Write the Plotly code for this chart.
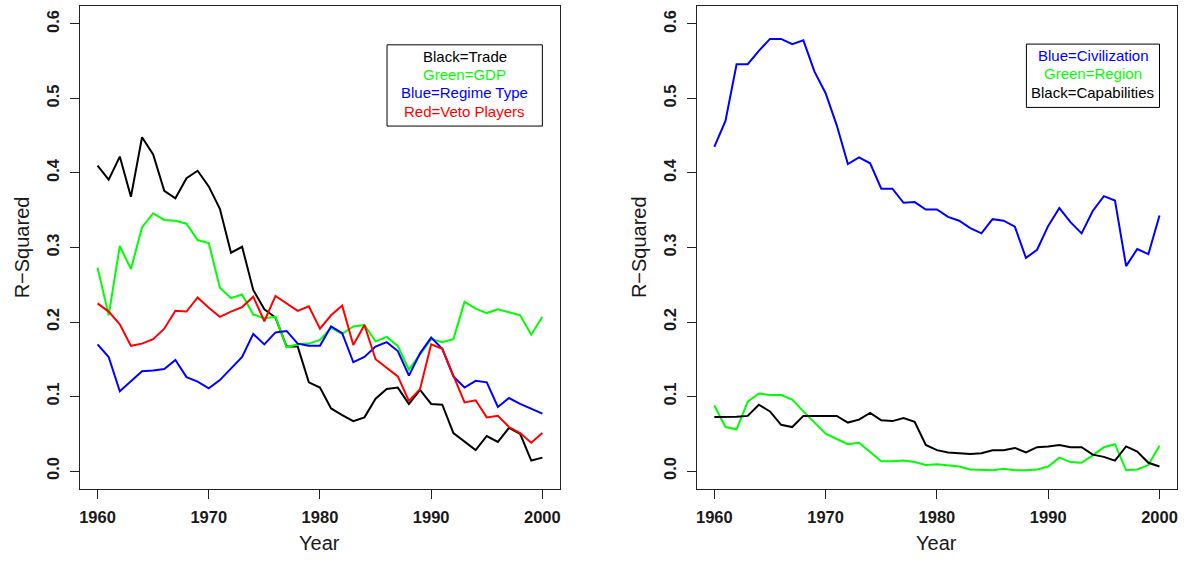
import plotly.graph_objects as go
from plotly.subplots import make_subplots

years = list(range(1960, 2001))

# Left panel: domestic/economic predictors
trade = [0.410, 0.391, 0.422, 0.368, 0.448, 0.425, 0.376, 0.366, 0.393, 0.403,
         0.382, 0.352, 0.293, 0.301, 0.243, 0.217, 0.206, 0.167, 0.167, 0.119,
         0.112, 0.084, 0.075, 0.067, 0.072, 0.097, 0.110, 0.112, 0.090, 0.109,
         0.090, 0.089, 0.051, 0.039, 0.028, 0.047, 0.039, 0.058, 0.050, 0.014,
         0.018]
gdp = [0.273, 0.209, 0.302, 0.271, 0.327, 0.346, 0.337, 0.336, 0.332, 0.310,
       0.306, 0.246, 0.232, 0.237, 0.210, 0.205, 0.207, 0.166, 0.170, 0.171,
       0.176, 0.192, 0.184, 0.194, 0.196, 0.174, 0.180, 0.168, 0.136, 0.157,
       0.177, 0.173, 0.177, 0.227, 0.218, 0.212, 0.217, 0.213, 0.209, 0.183,
       0.207]
regime = [0.170, 0.153, 0.107, 0.121, 0.134, 0.135, 0.137, 0.149, 0.126, 0.120,
          0.111, 0.122, 0.138, 0.153, 0.184, 0.170, 0.186, 0.188, 0.171, 0.168,
          0.168, 0.194, 0.185, 0.146, 0.153, 0.167, 0.173, 0.161, 0.128, 0.158,
          0.179, 0.164, 0.127, 0.112, 0.121, 0.119, 0.086, 0.098, 0.090, 0.083,
          0.077]
veto = [0.225, 0.214, 0.197, 0.168, 0.171, 0.177, 0.191, 0.215, 0.214, 0.233,
        0.219, 0.207, 0.214, 0.220, 0.234, 0.201, 0.235, 0.225, 0.215, 0.221,
        0.191, 0.209, 0.222, 0.169, 0.196, 0.150, 0.139, 0.127, 0.094, 0.110,
        0.170, 0.164, 0.128, 0.092, 0.095, 0.072, 0.074, 0.059, 0.051, 0.038,
        0.051]

# Right panel: civilizational / regional / power predictors
civilization = [0.435, 0.470, 0.546, 0.546, 0.564, 0.580, 0.580, 0.573, 0.578, 0.536,
                0.507, 0.464, 0.412, 0.421, 0.413, 0.379, 0.379, 0.360, 0.361, 0.351,
                0.351, 0.341, 0.336, 0.326, 0.319, 0.338, 0.336, 0.328, 0.286, 0.297,
                0.329, 0.353, 0.334, 0.319, 0.349, 0.369, 0.363, 0.275, 0.298, 0.291,
                0.343]
region = [0.088, 0.059, 0.056, 0.093, 0.104, 0.102, 0.102, 0.096, 0.080, 0.065,
          0.050, 0.043, 0.036, 0.038, 0.026, 0.013, 0.013, 0.014, 0.012, 0.008,
          0.009, 0.008, 0.006, 0.002, 0.001, 0.001, 0.003, 0.001, 0.001, 0.002,
          0.006, 0.018, 0.012, 0.011, 0.021, 0.032, 0.036, 0.001, 0.002, 0.008,
          0.034]
capabilities = [0.0725, 0.0725, 0.073, 0.074, 0.089, 0.080, 0.062, 0.059, 0.074, 0.074,
                0.074, 0.074, 0.065, 0.069, 0.078, 0.068, 0.067, 0.071, 0.066, 0.035,
                0.028, 0.025, 0.024, 0.023, 0.024, 0.028, 0.028, 0.031, 0.025, 0.032,
                0.033, 0.035, 0.032, 0.032, 0.022, 0.019, 0.014, 0.033, 0.026, 0.011,
                0.006]

x_ticks = [1960, 1970, 1980, 1990, 2000]
y_ticks = [0.0, 0.1, 0.2, 0.3, 0.4, 0.5, 0.6]

left_series = [(trade, "black"), (gdp, "#00ff00"), (regime, "#0000ff"), (veto, "#ff0000")]
right_series = [(civilization, "#0000ff"), (region, "#00ff00"), (capabilities, "black")]

left_key = [("Black=Trade", "black"), ("Green=GDP", "#00ff00"),
            ("Blue=Regime Type", "#0000ff"), ("Red=Veto Players", "#ff0000")]
right_key = [("Blue=Civilization", "#0000ff"), ("Green=Region", "#00ff00"),
             ("Black=Capabilities", "black")]

W, H = 1187, 563
FONT = "Liberation Sans, Arial, Helvetica, sans-serif"

fig = make_subplots(rows=1, cols=2)

for vals, col in left_series:
    fig.add_trace(go.Scatter(x=years, y=vals, mode="lines",
                             line=dict(color=col, width=2), showlegend=False),
                  row=1, col=1)
for vals, col in right_series:
    fig.add_trace(go.Scatter(x=years, y=vals, mode="lines",
                             line=dict(color=col, width=2), showlegend=False),
                  row=1, col=2)

# plot regions (pixel boxes converted to paper fractions)
left_px = (78.9, 560.1)
right_px = (696.7, 1178.3)
top_px, bottom_px = 6.1, 488.9
ydom = [(H - bottom_px) / H, (H - top_px) / H]

axis_common = dict(
    showgrid=False, zeroline=False, showline=True, mirror=True,
    linecolor="#222222", linewidth=1, ticks="outside", ticklen=9,
    tickwidth=1, tickcolor="#222222",
    tickfont=dict(family=FONT, size=16.5, color="#1a1a1a", weight="bold"),
)

for xa, ya, px in [("xaxis", "yaxis", left_px), ("xaxis2", "yaxis2", right_px)]:
    fig.layout[xa].update(domain=[px[0] / W, px[1] / W], range=[1958.4, 2001.6],
                          tickvals=x_ticks, ticklabelstandoff=4, **axis_common)
    fig.layout[ya].update(domain=ydom, range=[-0.024, 0.624], tickvals=y_ticks,
                          tickformat=".1f", tickangle=-90, ticklabelstandoff=4,
                          **axis_common)

annotations = []
shapes = []
for px in (left_px, right_px):
    cx = (px[0] + px[1]) / 2 / W
    annotations.append(dict(text="Year", x=cx, y=(H - 543) / H, xref="paper", yref="paper",
                            showarrow=False, xanchor="center", yanchor="middle",
                            font=dict(family=FONT, size=20, color="#1a1a1a")))
    annotations.append(dict(text="R\u2212Squared", x=(px[0] - 58) / W,
                            y=(H - (top_px + bottom_px) / 2) / H,
                            xref="paper", yref="paper", textangle=-90,
                            showarrow=False, xanchor="center", yanchor="middle",
                            font=dict(family=FONT, size=20, color="#1a1a1a")))

# colour key boxes drawn in data coordinates
key_specs = [("x", "y", left_key, 1986.03, 2000.0, 0.463, 0.572),
             ("x2", "y2", right_key, 1988.04, 2000.0, 0.488, 0.573)]
line_step = 18.3 / 745.0
for xref, yref, key, x0, x1, y0, y1 in key_specs:
    shapes.append(dict(type="rect", xref=xref, yref=yref, x0=x0, x1=x1, y0=y0, y1=y1,
                       line=dict(color="black", width=1), fillcolor="rgba(0,0,0,0)"))
    first = y1 - 0.0155
    for k, (txt, col) in enumerate(key):
        annotations.append(dict(text=txt, x=(x0 + x1) / 2, y=first - k * line_step,
                                xref=xref, yref=yref, showarrow=False,
                                xanchor="center", yanchor="middle",
                                font=dict(family=FONT, size=15, color=col)))

fig.update_layout(width=W, height=H, margin=dict(l=0, r=0, t=0, b=0),
                  paper_bgcolor="white", plot_bgcolor="white",
                  annotations=annotations, shapes=shapes, showlegend=False)

fig.write_html("out.html")
